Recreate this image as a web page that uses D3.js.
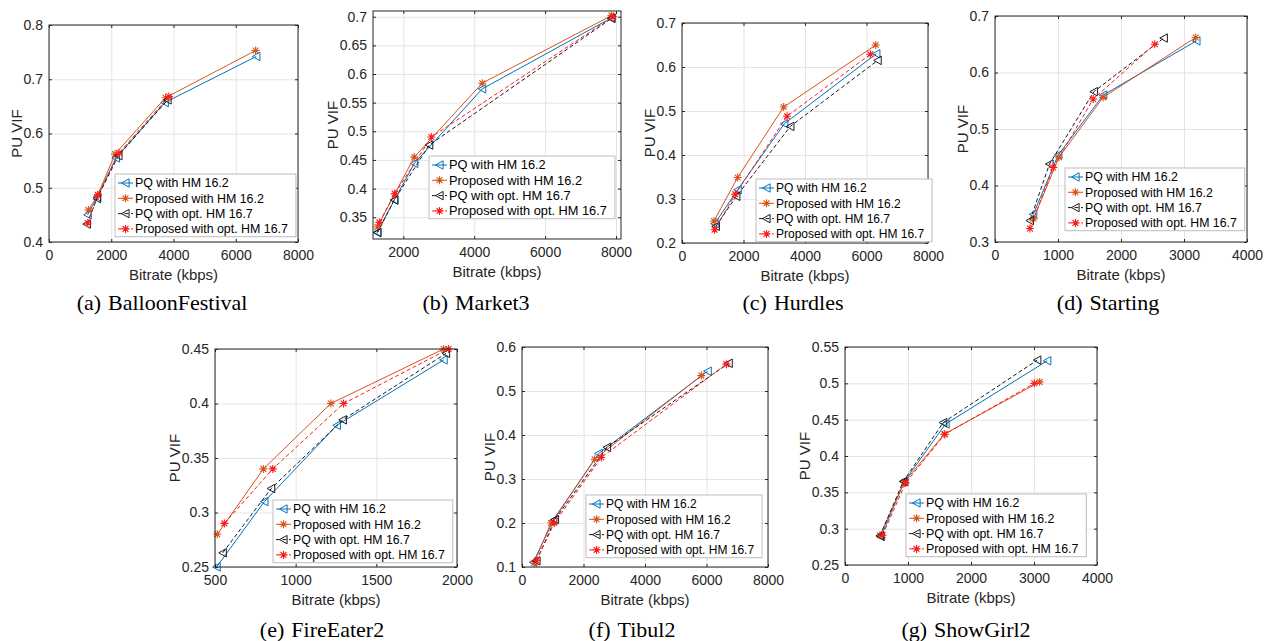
<!DOCTYPE html>
<html>
<head>
<meta charset="utf-8">
<script src="https://cdn.jsdelivr.net/npm/d3@7"></script>
<style>
  body { margin: 0; background: #fff; }
  svg { display: block; }
  .tick text { font-family: "Liberation Sans", Arial, sans-serif; font-size: 14px; fill: #262626; }
</style>
</head>
<body>
<div id="chart"></div>
<script>
/* Legend entries, same order as the series arrays below */
const seriesNames = ['PQ with HM 16.2', 'Proposed with HM 16.2',
    'PQ with opt. HM 16.7', 'Proposed with opt. HM 16.7'];

/* (a) BalloonFestival, [bitrate kbps, PU VIF] */
const balloonPq = [[1244, 0.450], [1550, 0.483], [2150, 0.555], [3720, 0.657], [6660, 0.742]];
const balloonProp = [[1265, 0.459], [1570, 0.487], [2120, 0.562], [3745, 0.666], [6640, 0.753]];
const balloonPqOpt = [[1215, 0.433], [1540, 0.480], [2230, 0.559], [3810, 0.662]];
const balloonPropOpt = [[1245, 0.435], [1570, 0.486], [2250, 0.564], [3850, 0.668]];

/* (b) Market3 */
const marketPq = [[1268, 0.324], [1746, 0.380], [2310, 0.444], [4225, 0.574], [7870, 0.698]];
const marketProp = [[1268, 0.333], [1760, 0.391], [2310, 0.455], [4225, 0.584], [7870, 0.702]];
const marketPqOpt = [[1268, 0.323], [1746, 0.380], [2730, 0.476], [7870, 0.697]];
const marketPropOpt = [[1324, 0.341], [1760, 0.391], [2790, 0.490], [7915, 0.700]];

/* (c) Hurdles */
const hurdlesPq = [[1062, 0.244], [1810, 0.321], [3328, 0.471], [6320, 0.630]];
const hurdlesProp = [[1040, 0.250], [1810, 0.349], [3306, 0.509], [6300, 0.650]];
const hurdlesPqOpt = [[1100, 0.238], [1767, 0.306], [3523, 0.465], [6363, 0.615]];
const hurdlesPropOpt = [[1060, 0.230], [1734, 0.311], [3415, 0.488], [6125, 0.629]];

/* (d) Starting */
const startingPq = [[607, 0.349], [1004, 0.454], [1717, 0.560], [3197, 0.656]];
const startingProp = [[610, 0.341], [1015, 0.450], [1717, 0.556], [3186, 0.662]];
const startingPqOpt = [[555, 0.338], [865, 0.438], [1569, 0.566], [2679, 0.661]];
const startingPropOpt = [[555, 0.324], [924, 0.432], [1559, 0.553], [2536, 0.650]];

/* (e) FireEater2 */
const fireEaterPq = [[510, 0.250], [806, 0.310], [1255, 0.380], [1917, 0.440]];
const fireEaterProp = [[514, 0.280], [800, 0.340], [1218, 0.400], [1917, 0.450]];
const fireEaterPqOpt = [[548, 0.263], [848, 0.322], [1292, 0.385], [1932, 0.446]];
const fireEaterPropOpt = [[558, 0.290], [858, 0.340], [1297, 0.400], [1948, 0.450]];

/* (f) Tibul2 */
const tibulPq = [[367, 0.111], [1018, 0.206], [2493, 0.358], [6038, 0.545]];
const tibulProp = [[390, 0.109], [943, 0.200], [2363, 0.345], [5832, 0.535]];
const tibulPqOpt = [[470, 0.114], [1072, 0.208], [2764, 0.372], [6721, 0.563]];
const tibulPropOpt = [[475, 0.115], [1050, 0.200], [2580, 0.349], [6645, 0.561]];

/* (g) ShowGirl2 */
const showGirlPq = [[571, 0.289], [941, 0.365], [1596, 0.444], [3210, 0.531]];
const showGirlProp = [[555, 0.291], [941, 0.364], [1575, 0.430], [3090, 0.502]];
const showGirlPqOpt = [[555, 0.290], [925, 0.365], [1559, 0.446], [3052, 0.532]];
const showGirlPropOpt = [[597, 0.291], [962, 0.363], [1585, 0.430], [3005, 0.500]];

/* Tick values */
const ticks0to8000 = [0, 2000, 4000, 6000, 8000];
const ticks2000to8000 = [2000, 4000, 6000, 8000];
const ticks0to4000 = [0, 1000, 2000, 3000, 4000];
const ticks500to2000 = [500, 1000, 1500, 2000];
const ticksBalloonY = [0.4, 0.5, 0.6, 0.7, 0.8];
const ticksMarketY = [0.35, 0.4, 0.45, 0.5, 0.55, 0.6, 0.65, 0.7];
const ticksHurdlesY = [0.2, 0.3, 0.4, 0.5, 0.6, 0.7];
const ticksStartingY = [0.3, 0.4, 0.5, 0.6, 0.7];
const ticksFireEaterY = [0.25, 0.3, 0.35, 0.4, 0.45];
const ticksTibulY = [0.1, 0.2, 0.3, 0.4, 0.5, 0.6];
const ticksShowGirlY = [0.25, 0.3, 0.35, 0.4, 0.45, 0.5, 0.55];

/* Sub-figure captions */
const captionLabels = ['(a)', '(b)', '(c)', '(d)', '(e)', '(f)', '(g)'];
const captionNames = ['BalloonFestival', 'Market3', 'Hurdles', 'Starting',
    'FireEater2', 'Tibul2', 'ShowGirl2'];

/* Line / marker style per series */
const seriesStyles = [
  { color: '#0072BD', dash: null, marker: 'triangle' },
  { color: '#D95319', dash: null, marker: 'star' },
  { color: '#1a1a1a', dash: '4,2.5', marker: 'triangle' },
  { color: '#FF1a1a', dash: '4,2.5', marker: 'star' },
];

const FONT = '"Liberation Sans", Arial, sans-serif';
const SERIF = '"Liberation Serif", "Times New Roman", serif';
const TEXT_COLOR = '#262626';

/* Panel layout: axes box, domains, legend box and caption place */
const panels = [
  { box: [49, 25, 298, 242], xDomain: [0, 8000], yDomain: [0.4, 0.8],
    xTicks: ticks0to8000, yTicks: ticksBalloonY,
    series: [balloonPq, balloonProp, balloonPqOpt, balloonPropOpt],
    legend: [115, 174, 12.4], caption: [162, 310] },
  { box: [373, 11, 621, 239], xDomain: [1145, 8140], yDomain: [0.312, 0.710],
    xTicks: ticks2000to8000, yTicks: ticksMarketY,
    series: [marketPq, marketProp, marketPqOpt, marketPropOpt],
    legend: [429, 156, 12.8], caption: [476, 310] },
  { box: [682, 23, 928, 243], xDomain: [0, 8000], yDomain: [0.2, 0.7],
    xTicks: ticks0to8000, yTicks: ticksHurdlesY,
    series: [hurdlesPq, hurdlesProp, hurdlesPqOpt, hurdlesPropOpt],
    legend: [756, 179, 12.0], caption: [793, 310] },
  { box: [995, 16, 1247, 242], xDomain: [0, 4000], yDomain: [0.3, 0.7],
    xTicks: ticks0to4000, yTicks: ticksStartingY,
    series: [startingPq, startingProp, startingPqOpt, startingPropOpt],
    legend: [1065, 168, 12.3], caption: [1108, 310] },
  { box: [215, 349, 457, 567], xDomain: [500, 2000], yDomain: [0.25, 0.45],
    xTicks: ticks500to2000, yTicks: ticksFireEaterY,
    series: [fireEaterPq, fireEaterProp, fireEaterPqOpt, fireEaterPropOpt],
    legend: [273, 500, 12.3], caption: [322, 637] },
  { box: [522, 347, 768, 567], xDomain: [0, 8000], yDomain: [0.1, 0.6],
    xTicks: ticks0to8000, yTicks: ticksTibulY,
    series: [tibulPq, tibulProp, tibulPqOpt, tibulPropOpt],
    legend: [586, 495, 12.0], caption: [632, 637] },
  { box: [845, 347, 1097, 565], xDomain: [0, 4000], yDomain: [0.25, 0.55],
    xTicks: ticks0to4000, yTicks: ticksShowGirlY,
    series: [showGirlPq, showGirlProp, showGirlPqOpt, showGirlPropOpt],
    legend: [906, 494, 12.35], caption: [966, 637] },
];

const svg = d3.select('#chart').append('svg')
    .attr('width', 1267)
    .attr('height', 641)
    .style('background', '#fff');

/**
 * Draw a marker symbol centred on the origin of the given group.
 *
 * @param {d3.Selection} g Group to append to
 * @param {String} type 'triangle' or 'star'
 * @param {String} color Stroke colour
 */
function drawMarker(g, type, color) {
  if (type === 'triangle') {
    g.append('path')
        .attr('d', 'M-4,0L3.6,-4.2L3.6,4.2Z')
        .attr('fill', 'none')
        .attr('stroke', color)
        .attr('stroke-width', 1);
  } else {
    const r = 4, d = 2.9;
    g.append('path')
        .attr('d', `M${-r},0H${r}M0,${-r}V${r}` +
            `M${-d},${-d}L${d},${d}M${-d},${d}L${d},${-d}`)
        .attr('fill', 'none')
        .attr('stroke', color)
        .attr('stroke-width', 1.1);
  }
}

/**
 * Draw one sub plot: grid, frame, axes, series, legend and caption.
 *
 * @param {Object} p Panel config
 * @param {Number} idx Panel index
 */
function drawPanel(p, idx) {
  const [x0, y0, x1, y1] = p.box;
  const width = x1 - x0;
  const height = y1 - y0;

  const x = d3.scaleLinear().domain(p.xDomain).range([0, width]);
  const y = d3.scaleLinear().domain(p.yDomain).range([height, 0]);

  const plotD3 = svg.append('g')
      .attr('class', 'panel')
      .attr('transform', `translate(${x0}, ${y0})`);

  /* Grid */
  plotD3.append('g')
      .attr('class', 'grid-x')
      .attr('transform', `translate(0, ${height})`)
      .call(d3.axisBottom(x).tickValues(p.xTicks).tickSize(-height).tickFormat(''))
      .call(g => g.select('.domain').remove())
      .call(g => g.selectAll('line').attr('stroke', '#e4e4e4'));
  plotD3.append('g')
      .attr('class', 'grid-y')
      .call(d3.axisLeft(y).tickValues(p.yTicks).tickSize(-width).tickFormat(''))
      .call(g => g.select('.domain').remove())
      .call(g => g.selectAll('line').attr('stroke', '#e4e4e4'));

  /* Series lines and markers */
  const line = d3.line().x(d => x(d[0])).y(d => y(d[1]));
  p.series.forEach((data, i) => {
    const style = seriesStyles[i];
    plotD3.append('path')
        .datum(data)
        .attr('d', line)
        .attr('fill', 'none')
        .attr('stroke', style.color)
        .attr('stroke-width', 1)
        .attr('stroke-dasharray', style.dash);
    plotD3.append('g')
        .selectAll('g')
        .data(data)
        .join('g')
        .attr('transform', d => `translate(${x(d[0])}, ${y(d[1])})`)
        .each(function() { drawMarker(d3.select(this), style.marker, style.color); });
  });

  /* Axes with inward ticks */
  const fmt = d3.format('~g');
  const styleAxis = g => {
    g.select('.domain').remove();
    g.selectAll('line').attr('stroke', TEXT_COLOR);
  };
  plotD3.append('g')
      .attr('transform', `translate(0, ${height})`)
      .call(d3.axisBottom(x).tickValues(p.xTicks).tickSize(-3).tickPadding(8).tickFormat(fmt))
      .call(styleAxis);
  plotD3.append('g')
      .call(d3.axisTop(x).tickValues(p.xTicks).tickSize(-3).tickFormat(''))
      .call(styleAxis);
  const yAxisD3 = plotD3.append('g')
      .call(d3.axisLeft(y).tickValues(p.yTicks).tickSize(-3).tickPadding(6).tickFormat(fmt))
      .call(styleAxis);
  plotD3.append('g')
      .attr('transform', `translate(${width}, 0)`)
      .call(d3.axisRight(y).tickValues(p.yTicks).tickSize(-3).tickFormat(''))
      .call(styleAxis);
  plotD3.selectAll('.tick text').attr('font-family', null).attr('font-size', null);

  /* Frame */
  plotD3.append('rect')
      .attr('width', width)
      .attr('height', height)
      .attr('fill', 'none')
      .attr('stroke', TEXT_COLOR)
      .attr('stroke-width', 1);

  /* Axis labels */
  plotD3.append('text')
      .attr('x', width / 2)
      .attr('y', height + 38)
      .attr('text-anchor', 'middle')
      .attr('font-family', FONT)
      .attr('font-size', 15)
      .attr('fill', TEXT_COLOR)
      .text('Bitrate (kbps)');

  let maxLabel = 0;
  yAxisD3.selectAll('text').each(function() {
    maxLabel = Math.max(maxLabel, this.getComputedTextLength());
  });
  plotD3.append('text')
      .attr('transform', `translate(${-(maxLabel + 8)}, ${height / 2}) rotate(-90)`)
      .attr('text-anchor', 'middle')
      .attr('font-family', FONT)
      .attr('font-size', 15)
      .attr('fill', TEXT_COLOR)
      .text('PU VIF');

  /* Legend */
  const [lx, ly, lfs] = p.legend;
  const rowH = 15.3;
  const legendD3 = svg.append('g')
      .attr('class', 'legend')
      .attr('transform', `translate(${lx}, ${ly})`);
  const boxD3 = legendD3.append('rect')
      .attr('height', rowH * 4 + 1.5)
      .attr('fill', '#fff')
      .attr('stroke', '#bdbdbd')
      .attr('stroke-width', 1);
  let textW = 0;
  seriesNames.forEach((name, i) => {
    const style = seriesStyles[i];
    const cy = 9 + i * rowH;
    legendD3.append('line')
        .attr('x1', 3).attr('x2', 18)
        .attr('y1', cy).attr('y2', cy)
        .attr('stroke', style.color)
        .attr('stroke-width', 1)
        .attr('stroke-dasharray', style.dash);
    drawMarker(legendD3.append('g').attr('transform', `translate(10.5, ${cy})`),
        style.marker, style.color);
    const t = legendD3.append('text')
        .attr('x', 20)
        .attr('y', cy)
        .attr('dy', '0.35em')
        .attr('font-family', FONT)
        .attr('font-size', lfs)
        .attr('fill', '#000')
        .text(name);
    textW = Math.max(textW, t.node().getComputedTextLength());
  });
  boxD3.attr('width', 20 + textW + 8);

  /* Caption */
  const [cx, cyCap] = p.caption;
  const capD3 = svg.append('text')
      .attr('x', cx)
      .attr('y', cyCap)
      .attr('text-anchor', 'middle')
      .attr('font-family', SERIF)
      .attr('font-size', 22)
      .attr('fill', '#000');
  capD3.append('tspan').text(captionLabels[idx]);
  capD3.append('tspan').attr('dx', 7).text(captionNames[idx]);
}

panels.forEach(drawPanel);
</script>
</body>
</html>
